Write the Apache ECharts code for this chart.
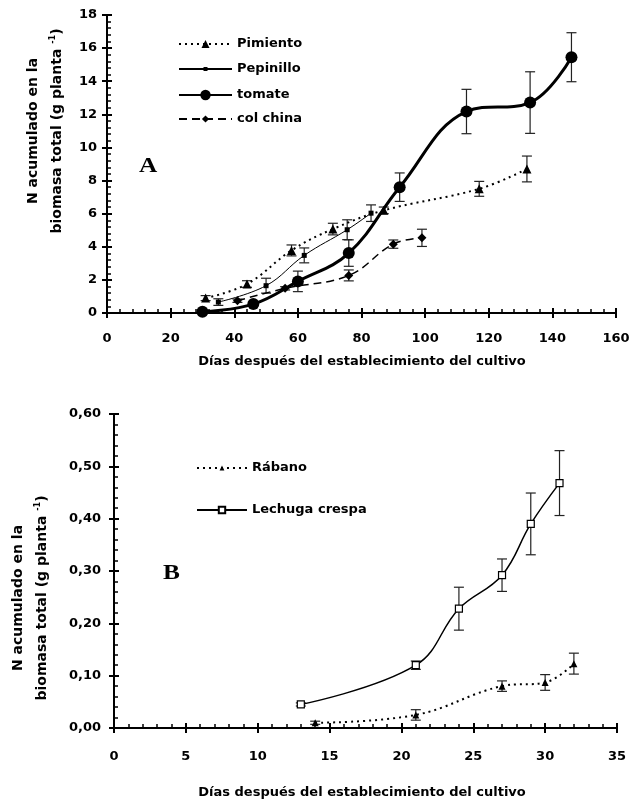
<!DOCTYPE html>
<html><head><meta charset="utf-8">
<script src="https://cdn.jsdelivr.net/npm/echarts@6/dist/echarts.min.js"></script>
<style>html,body{margin:0;padding:0;background:#fff}#c{width:638px;height:800px}</style>
</head><body><div id="c"></div>
<script>
// ---- Panel A data ----
const pimDays = [31, 44, 58, 71, 87, 117, 132];
const pimN    = [0.9, 1.75, 3.78, 5.07, 6.2, 7.5, 8.7];
const pimErr  = [0.15, 0.2, 0.33, 0.35, 0.2, 0.45, 0.78];

const pepDays = [35, 50, 62, 75.5, 83];
const pepN    = [0.66, 1.65, 3.48, 5.03, 6.03];
const pepErr  = [0.2, 0.45, 0.45, 0.6, 0.5];

const tomDays = [30, 46, 60, 76, 92, 113, 133, 146];
const tomN    = [0.07, 0.54, 1.91, 3.62, 7.6, 12.17, 12.71, 15.45];
const tomErr  = [0, 0.1, 0.62, 0.8, 0.86, 1.34, 1.86, 1.48];

const colDays = [41, 56, 76, 90, 99];
const colN    = [0.74, 1.49, 2.27, 4.16, 4.54];
const colErr  = [0.1, 0.1, 0.33, 0.25, 0.52];

// ---- Panel B data ----
const rabDays = [14, 21, 27, 30, 32];
const rabN    = [0.01, 0.025, 0.08, 0.087, 0.123];
const rabErr  = [0.003, 0.01, 0.01, 0.015, 0.02];

const lecDays = [13, 21, 24, 27, 29, 31];
const lecN    = [0.045, 0.12, 0.228, 0.292, 0.39, 0.468];
const lecErr  = [0.003, 0.008, 0.041, 0.031, 0.059, 0.062];

const namesA = ['Pimiento', 'Pepinillo', 'tomate', 'col china'];
const namesB = ['Rábano', 'Lechuga crespa'];
const xTitle = 'Días después del establecimiento del cultivo';
const yTitle1 = 'N acumulado en la';
const yTitle2 = 'biomasa total (g planta {sup|-1})';

const FONT = '"DejaVu Sans", Verdana, sans-serif';
const pts = (xs, ys) => xs.map((x, i) => [x, ys[i]]);
const errPts = (xs, ys, es) => xs.map((x, i) => [x, ys[i], es[i]]);

function errRender(params, api) {
  const x = api.value(0), y = api.value(1), e = api.value(2);
  const t = api.coord([x, y + e]), b = api.coord([x, y - e]);
  const hw = 5;
  const st = { stroke: '#222', lineWidth: 1.2 };
  return { type: 'group', children: [
    { type: 'line', shape: { x1: t[0], y1: t[1], x2: b[0], y2: b[1] }, style: st },
    { type: 'line', shape: { x1: t[0] - hw, y1: t[1], x2: t[0] + hw, y2: t[1] }, style: st },
    { type: 'line', shape: { x1: b[0] - hw, y1: b[1], x2: b[0] + hw, y2: b[1] }, style: st }
  ]};
}

const labelStyle = { color: '#000', fontFamily: FONT, fontWeight: 'bold', fontSize: 13 };
function mainAxis(extra, lab) {
  return Object.assign({
    type: 'value',
    axisLine: { show: true, onZero: false, lineStyle: { color: '#000', width: 2 } },
    axisTick: { show: true, inside: false, length: 5, lineStyle: { color: '#000', width: 2 } },
    minorTick: { show: false },
    splitLine: { show: false },
    axisLabel: Object.assign({}, labelStyle, lab)
  }, extra);
}
function overlayAxis(extra) {
  return Object.assign({
    type: 'value',
    axisLine: { show: true, onZero: false, lineStyle: { color: '#000', width: 2 } },
    axisTick: { show: true, inside: true, length: 5, lineStyle: { color: '#000', width: 2 } },
    minorTick: { show: true, splitNumber: 5, length: 4, lineStyle: { color: '#000', width: 1.5 } },
    splitLine: { show: false }, minorSplitLine: { show: false },
    axisLabel: { show: false }
  }, extra);
}

const legText = { color: '#000', fontFamily: FONT, fontWeight: 'bold', fontSize: 13 };
function leg(name, left, center, w, h) {
  return { data: [name], orient: 'vertical', left: left, top: center - Math.max(h, 15) / 2,
    itemWidth: w, itemHeight: h, padding: 0, textStyle: legText };
}

const chart = echarts.init(document.getElementById('c'));
chart.setOption({
  animation: false,
  backgroundColor: '#fff',
  grid: [
    { left: 107, right: 22, top: 15, height: 298 },
    { left: 114, right: 21, top: 414, height: 314 }
  ],
  xAxis: [
    mainAxis({ gridIndex: 0, min: 0, max: 160, interval: 20, position: 'bottom' }, { margin: 19 }),
    overlayAxis({ gridIndex: 0, min: 0, max: 160, interval: 20, position: 'bottom' }),
    mainAxis({ gridIndex: 1, min: 0, max: 35, interval: 5, position: 'bottom' }, { margin: 22 }),
    overlayAxis({ gridIndex: 1, min: 0, max: 35, interval: 5, position: 'bottom' })
  ],
  yAxis: [
    mainAxis({ gridIndex: 0, min: 0, max: 18, interval: 2, position: 'left' }, { margin: 10 }),
    overlayAxis({ gridIndex: 0, min: 0, max: 18, interval: 2, position: 'left' }),
    mainAxis({ gridIndex: 1, min: 0, max: 0.6, interval: 0.1, position: 'left' },
      { margin: 13, formatter: v => v.toFixed(2).replace('.', ',') }),
    overlayAxis({ gridIndex: 1, min: 0, max: 0.6, interval: 0.1, position: 'left' })
  ],
  legend: [
    leg('Pimiento', 178, 45, 53, 10),
    leg('Pepinillo', 178, 70, 53, 5),
    leg('tomate', 178, 96, 53, 13),
    leg('col china', 178, 120, 53, 9),
    leg('Rábano', 196, 469, 50, 6),
    leg('Lechuga crespa', 196, 511, 50, 8)
  ],
  graphic: [
    { type: 'text', x: 139, y: 155, scaleX: 1.15, style: { text: 'A', font: 'bold 22px "Liberation Serif", "Times New Roman", serif', fill: '#000' } },
    { type: 'text', x: 163, y: 562, scaleX: 1.15, style: { text: 'B', font: 'bold 22px "Liberation Serif", "Times New Roman", serif', fill: '#000' } },
    { type: 'text', x: 33, y: 131, rotation: Math.PI / 2,
      style: { text: yTitle1, font: 'bold 14px ' + FONT, fill: '#000', align: 'center', verticalAlign: 'middle' } },
    { type: 'text', x: 57, y: 131, rotation: Math.PI / 2,
      style: { text: yTitle2, font: 'bold 14px ' + FONT, fill: '#000', align: 'center', verticalAlign: 'middle',
        rich: { sup: { fontSize: 8, fontWeight: 'bold', fontFamily: FONT, padding: [0, 0, 8, 0] } } } },
    { type: 'text', x: 18, y: 598, rotation: Math.PI / 2,
      style: { text: yTitle1, font: 'bold 14px ' + FONT, fill: '#000', align: 'center', verticalAlign: 'middle' } },
    { type: 'text', x: 42, y: 598, rotation: Math.PI / 2,
      style: { text: yTitle2, font: 'bold 14px ' + FONT, fill: '#000', align: 'center', verticalAlign: 'middle',
        rich: { sup: { fontSize: 8, fontWeight: 'bold', fontFamily: FONT, padding: [0, 0, 8, 0] } } } },
    { type: 'text', x: 362, y: 362,
      style: { text: xTitle, font: 'bold 13px ' + FONT, fill: '#000', align: 'center', verticalAlign: 'middle' } },
    { type: 'text', x: 362, y: 793,
      style: { text: xTitle, font: 'bold 13px ' + FONT, fill: '#000', align: 'center', verticalAlign: 'middle' } }
  ],
  series: [
    { type: 'custom', name: 'errPim', xAxisIndex: 0, yAxisIndex: 0, silent: true, z: 1, renderItem: errRender, data: errPts(pimDays, pimN, pimErr) },
    { type: 'custom', name: 'errPep', xAxisIndex: 0, yAxisIndex: 0, silent: true, z: 1, renderItem: errRender, data: errPts(pepDays, pepN, pepErr) },
    { type: 'custom', name: 'errTom', xAxisIndex: 0, yAxisIndex: 0, silent: true, z: 1, renderItem: errRender, data: errPts(tomDays, tomN, tomErr) },
    { type: 'custom', name: 'errCol', xAxisIndex: 0, yAxisIndex: 0, silent: true, z: 1, renderItem: errRender, data: errPts(colDays, colN, colErr) },
    { type: 'custom', name: 'errRab', xAxisIndex: 2, yAxisIndex: 2, silent: true, z: 1, renderItem: errRender, data: errPts(rabDays, rabN, rabErr) },
    { type: 'custom', name: 'errLec', xAxisIndex: 2, yAxisIndex: 2, silent: true, z: 1, renderItem: errRender, data: errPts(lecDays, lecN, lecErr) },

    { type: 'line', name: 'Pimiento', xAxisIndex: 0, yAxisIndex: 0, z: 3, smooth: 0.4,
      symbol: 'triangle', symbolSize: 9, itemStyle: { color: '#000' },
      lineStyle: { color: '#000', width: 2, type: [2, 4] }, data: pts(pimDays, pimN) },
    { type: 'line', name: 'Pepinillo', xAxisIndex: 0, yAxisIndex: 0, z: 3, smooth: 0.4,
      symbol: 'rect', symbolSize: 5, itemStyle: { color: '#000' },
      lineStyle: { color: '#000', width: 1 }, data: pts(pepDays, pepN) },
    { type: 'line', name: 'tomate', xAxisIndex: 0, yAxisIndex: 0, z: 3, smooth: 0.4,
      symbol: 'circle', symbolSize: 12, itemStyle: { color: '#000' },
      lineStyle: { color: '#000', width: 3 }, data: pts(tomDays, tomN) },
    { type: 'line', name: 'col china', xAxisIndex: 0, yAxisIndex: 0, z: 3, smooth: 0.4,
      symbol: 'diamond', symbolSize: 9, itemStyle: { color: '#000' },
      lineStyle: { color: '#000', width: 1.5, type: [8, 5] }, data: pts(colDays, colN) },

    { type: 'line', name: 'Rábano', xAxisIndex: 2, yAxisIndex: 2, z: 3, smooth: 0.4,
      symbol: 'triangle', symbolSize: 7, itemStyle: { color: '#000' },
      lineStyle: { color: '#000', width: 2, type: [2, 4] }, data: pts(rabDays, rabN) },
    { type: 'line', name: 'Lechuga crespa', xAxisIndex: 2, yAxisIndex: 2, z: 3, smooth: 0.4,
      symbol: 'rect', symbolSize: 7, itemStyle: { color: '#fff', borderColor: '#000', borderWidth: 1.2 },
      lineStyle: { color: '#000', width: 1.5 }, data: pts(lecDays, lecN) }
  ]
});
</script></body></html>
